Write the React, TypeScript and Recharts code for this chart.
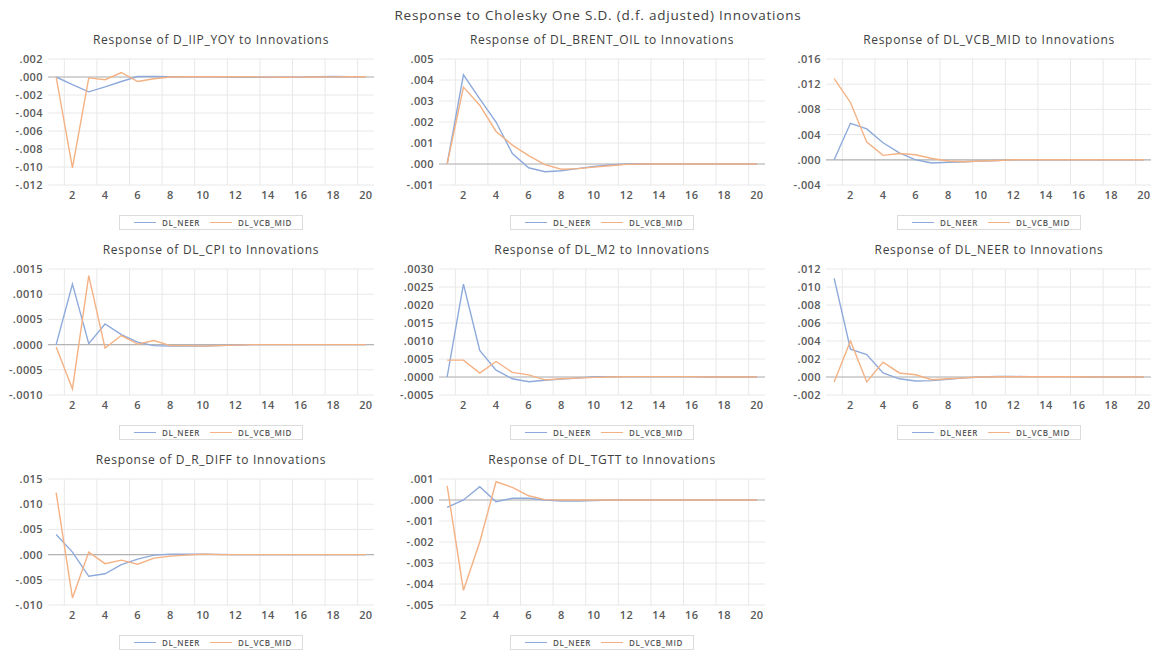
import React from "react"
import { CartesianGrid, Legend, Line, LineChart, ReferenceLine, XAxis, YAxis } from "recharts"

const PERIODS = [1, 2, 3, 4, 5, 6, 7, 8, 9, 10, 11, 12, 13, 14, 15, 16, 17, 18, 19, 20]
const X_TICKS = [2, 4, 6, 8, 10, 12, 14, 16, 18, 20]
const X_GRID = [1.5, 3.5, 5.5, 7.5, 9.5, 11.5, 13.5, 15.5, 17.5, 19.5]

const IIP_NEER = [0, -0.00085, -0.00165, -0.0011, -0.0005, 0.00005, 0.00005, 0.00003, 0.00002, 0.00002, 0.00001, -0.00003, -0.00004, -0.00003, -0.00002, -0.00001, 0.00002, 0.00005, 0.00003, 0.00002]
const IIP_VCB = [0, -0.0101, -0.0001, -0.0003, 0.0005, -0.0005, -0.0002, 0, 0.00002, 0.00003, 0.00003, 0.00002, 0.00002, -0.00001, -0.00002, -0.00001, 0, 0.00001, 0.00002, 0.00002]
const IIP_TICKS = [0.002, 0, -0.002, -0.004, -0.006, -0.008, -0.01, -0.012]

const BRENT_NEER = [0, 0.00425, 0.0031, 0.002, 0.0005, -0.00018, -0.00037, -0.00032, -0.00022, -0.00012, -0.00005, 0, 0.00001, 0, 0, 0, 0, 0, 0, 0]
const BRENT_VCB = [0, 0.00366, 0.0028, 0.00155, 0.0009, 0.0004, -0.00003, -0.00025, -0.00022, -0.00015, -0.00008, -0.00002, 0, 0, 0, 0, 0, 0, 0, 0]
const BRENT_TICKS = [0.005, 0.004, 0.003, 0.002, 0.001, 0, -0.001]

const VCB_NEER = [0, 0.0058, 0.0049, 0.0027, 0.0011, 0, -0.0005, -0.0004, -0.0003, -0.0002, -0.0001, 0, 0, 0, 0, 0, 0, 0, 0, 0]
const VCB_VCB = [0.0129, 0.0091, 0.0028, 0.0007, 0.001, 0.0008, 0.0002, -0.0002, -0.0003, -0.0002, -0.0001, 0, 0, 0, 0, 0, 0, 0, 0, 0]
const VCB_TICKS = [0.016, 0.012, 0.008, 0.004, 0, -0.004]

const CPI_NEER = [0, 0.0012, 0.00002, 0.00041, 0.0002, 0.00005, -0.00002, -0.00003, -0.00003, -0.00003, -0.00002, -0.00001, 0, 0, 0, 0, 0, 0, 0, 0]
const CPI_VCB = [-0.00005, -0.00088, 0.00137, -0.00007, 0.00018, 0.00001, 0.00008, -0.00002, -0.00002, -0.00003, -0.00002, -0.00001, 0, 0, 0, 0, 0, 0, 0, 0]
const CPI_TICKS = [0.0015, 0.001, 0.0005, 0, -0.0005, -0.001]

const M2_NEER = [0, 0.00258, 0.00074, 0.00019, -0.00005, -0.00013, -0.00009, -0.00006, -0.00003, 0.00001, 0.00001, 0.00001, 0.00001, 0.00001, 0.00001, 0.00001, 0, 0, 0, 0]
const M2_VCB = [0.00047, 0.00047, 0.00011, 0.00043, 0.00013, 0.00006, -0.00008, -0.00005, -0.00003, -0.00001, 0, 0.00001, 0.00001, 0.00001, 0.00001, 0.00001, 0, 0, 0, 0]
const M2_TICKS = [0.003, 0.0025, 0.002, 0.0015, 0.001, 0.0005, 0, -0.0005]

const NEER_NEER = [0.01095, 0.0031, 0.0025, 0.00045, -0.0002, -0.00045, -0.0004, -0.00025, -0.0001, 0, 0.00005, 0.00005, 0.00004, 0.00004, 0.00004, 0.00003, 0, 0, 0, 0]
const NEER_VCB = [-0.00055, 0.004, -0.00055, 0.00165, 0.00045, 0.00025, -0.0003, -0.0002, -0.0001, 0, 0.00002, 0.00003, 0.00003, 0.00003, 0.00003, 0.00002, 0, 0, 0, 0]
const NEER_TICKS = [0.012, 0.01, 0.008, 0.006, 0.004, 0.002, 0, -0.002]

const RDIFF_NEER = [0.004, 0.0005, -0.0043, -0.0038, -0.002, -0.0009, -0.0001, 0.0001, 0.0001, 0.0001, 0.00005, 0, 0, 0, 0, 0, 0, 0, 0, 0]
const RDIFF_VCB = [0.0123, -0.0086, 0.0005, -0.0018, -0.0011, -0.0019, -0.0007, -0.0003, -0.0001, 0.0001, 0, 0, 0, 0, 0, 0, 0, 0, 0, 0]
const RDIFF_TICKS = [0.015, 0.01, 0.005, 0, -0.005, -0.01]

const TGTT_NEER = [-0.00035, 0, 0.00063, -0.00008, 0.00008, 0.00008, 0, -0.00005, -0.00005, -0.00003, 0, 0, 0, 0, 0, 0, 0, 0, 0, 0]
const TGTT_VCB = [0.00067, -0.0043, -0.002, 0.00087, 0.0006, 0.0002, 0.00002, 0, 0, 0, 0, 0, 0, 0, 0, 0, 0, 0, 0, 0]
const TGTT_TICKS = [0.001, 0, -0.001, -0.002, -0.003, -0.004, -0.005]

const BLUE = "#8eaadb"
const ORANGE = "#f4b183"
const FONT = "'Open Sans', sans-serif"

const Y_W = 48
const PLOT_W = 326
const CHART_W = Y_W + PLOT_W + 4
const ROW_TOP = [25, 235, 445]
const COL_LEFT = [0, 391, 778]

type Panel = {
  name: string
  neer: number[]
  vcb: number[]
  ticks: number[]
  digits: number
}

const PANELS: Panel[] = [
  { name: "D_IIP_YOY", neer: IIP_NEER, vcb: IIP_VCB, ticks: IIP_TICKS, digits: 3 },
  { name: "DL_BRENT_OIL", neer: BRENT_NEER, vcb: BRENT_VCB, ticks: BRENT_TICKS, digits: 3 },
  { name: "DL_VCB_MID", neer: VCB_NEER, vcb: VCB_VCB, ticks: VCB_TICKS, digits: 3 },
  { name: "DL_CPI", neer: CPI_NEER, vcb: CPI_VCB, ticks: CPI_TICKS, digits: 4 },
  { name: "DL_M2", neer: M2_NEER, vcb: M2_VCB, ticks: M2_TICKS, digits: 4 },
  { name: "DL_NEER", neer: NEER_NEER, vcb: NEER_VCB, ticks: NEER_TICKS, digits: 3 },
  { name: "D_R_DIFF", neer: RDIFF_NEER, vcb: RDIFF_VCB, ticks: RDIFF_TICKS, digits: 3 },
  { name: "DL_TGTT", neer: TGTT_NEER, vcb: TGTT_VCB, ticks: TGTT_TICKS, digits: 3 },
]

const fmt = (digits: number) => (v: number) => v.toFixed(digits).replace("0.", ".")

const TICK_STYLE = { fill: "#595959", fontSize: 11, fontWeight: 600, fontFamily: FONT, letterSpacing: 0.4 }

function LegendBox({ payload }: { payload?: { value: string; color: string }[] }) {
  return (
    <div style={{ width: PLOT_W, marginLeft: Y_W, height: 18, display: "flex", justifyContent: "center", alignItems: "flex-end" }}>
      <div
        style={{
          border: "1px solid #dcdcdc",
          height: 13,
          display: "flex",
          alignItems: "center",
          padding: "0 10px 0 14px",
          fontFamily: FONT,
          fontSize: 8,
          fontWeight: 600,
          letterSpacing: 0.6,
          color: "#595959",
        }}
      >
        {(payload ?? []).map((p, i) => (
          <span key={p.value} style={{ display: "flex", alignItems: "center", marginLeft: i ? 10 : 0 }}>
            <span style={{ width: 22, borderTop: `1.5px solid ${p.color}`, marginRight: 6 }} />
            {p.value}
          </span>
        ))}
      </div>
    </div>
  )
}

function PanelChart({ panel, left, top }: { panel: Panel; left: number; top: number }) {
  const data = PERIODS.map((t, i) => ({ t, DL_NEER: panel.neer[i], DL_VCB_MID: panel.vcb[i] }))
  const lo = panel.ticks[panel.ticks.length - 1]
  const hi = panel.ticks[0]
  return (
    <div style={{ position: "absolute", left, top, width: CHART_W, height: 210 }}>
      <div
        style={{
          position: "absolute",
          left: Y_W,
          width: PLOT_W,
          top: 6,
          textAlign: "center",
          fontFamily: FONT,
          fontSize: 12,
          letterSpacing: 0.7,
          color: "#404040",
          whiteSpace: "nowrap",
        }}
      >
        Response of {panel.name} to Innovations
      </div>
      <LineChart width={CHART_W} height={210} data={data} margin={{ top: 34, right: 4, left: 0, bottom: 5 }}>
        <CartesianGrid vertical={false} stroke="#e8e8e8" />
        {X_GRID.map((x) => (
          <ReferenceLine key={x} x={x} stroke="#e8e8e8" />
        ))}
        <ReferenceLine y={0} stroke="#b4b4b4" strokeWidth={1.2} />
        <XAxis
          dataKey="t"
          type="number"
          domain={[0.5, 20.5]}
          ticks={X_TICKS}
          axisLine={false}
          tickLine={false}
          tickSize={4}
          tickMargin={2}
          height={27}
          interval={0}
          tick={TICK_STYLE}
        />
        <YAxis
          type="number"
          domain={[lo, hi]}
          ticks={panel.ticks}
          width={Y_W}
          axisLine={false}
          tickLine={false}
          tickSize={3}
          tickMargin={2}
          interval={0}
          tickFormatter={fmt(panel.digits)}
          tick={TICK_STYLE}
        />
        <Legend verticalAlign="bottom" wrapperStyle={{ left: 0, width: CHART_W }} content={<LegendBox />} />
        <Line dataKey="DL_NEER" stroke={BLUE} strokeWidth={1.4} dot={false} isAnimationActive={false} />
        <Line dataKey="DL_VCB_MID" stroke={ORANGE} strokeWidth={1.4} dot={false} isAnimationActive={false} />
      </LineChart>
    </div>
  )
}

export default function App() {
  return (
    <div style={{ position: "absolute", left: 0, top: 0, width: 1151, height: 650, overflow: "hidden", background: "#fff" }}>
      <div
        style={{
          position: "absolute",
          top: 6,
          left: 0,
          width: 1196,
          textAlign: "center",
          fontFamily: FONT,
          fontSize: 13.5,
          letterSpacing: 0.8,
          color: "#404040",
        }}
      >
        Response to Cholesky One S.D. (d.f. adjusted) Innovations
      </div>
      {PANELS.map((p, i) => (
        <PanelChart key={p.name} panel={p} left={COL_LEFT[i % 3]} top={ROW_TOP[Math.floor(i / 3)]} />
      ))}
    </div>
  )
}
